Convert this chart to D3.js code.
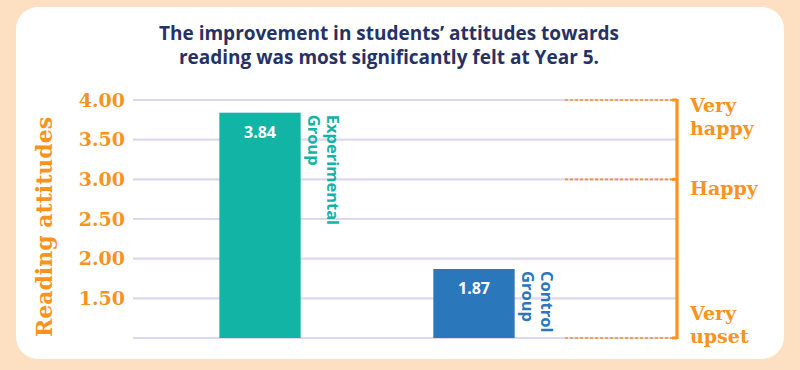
<!DOCTYPE html>
<html>
<head>
<meta charset="utf-8">
<script src="https://cdn.jsdelivr.net/npm/d3@7"></script>
<style>
  body { margin: 0; background: #fddfc1; }
  svg { display: block; }
</style>
</head>
<body>
<div id="chart"></div>
<script>
// reading attitudes bar chart
var groups = ["Experimental Group", "Control Group"];
var scores = [3.84, 1.87];
var yTicks = [1.5, 2.0, 2.5, 3.0, 3.5, 4.0];
var gridLines = [1.0, 1.5, 2.0, 2.5, 3.0, 3.5, 4.0];
var moodLevels = [4.0, 3.0, 1.0];
var moodLabels = [["Very", "happy"], ["Happy"], ["Very", "upset"]];
var titleLines = ["The improvement in students\u2019 attitudes towards",
                  "reading was most significantly felt at Year 5."];

(function () {
    var width = 800, height = 370;
    var orange = "#f7931e";
    var slab = "'DejaVu Serif', serif";
    var sans = "'Open Sans', 'Noto Sans', sans-serif";
    var barColors = ["#12b4a6", "#2a77bc"];

    var svg = d3.select("#chart")
                .append("svg")
                .attr("width", width)
                .attr("height", height);

    // background + white card
    svg.append("rect").attr("width", width).attr("height", height).attr("fill", "#fddfc1");
    svg.append("rect")
        .attr("x", 16).attr("y", 7)
        .attr("width", 768).attr("height", 352)
        .attr("rx", 22)
        .attr("fill", "#ffffff");

    var yScale = d3.scaleLinear().domain([1, 4]).range([338, 100]);
    var xScale = d3.scaleBand()
                   .domain(groups)
                   .range([153, 581])
                   .paddingInner(0.62)
                   .paddingOuter(0.31);

    // title
    svg.append("g").selectAll("text")
        .data(titleLines)
        .enter()
        .append("text")
        .attr("x", 389)
        .attr("y", function(d, i) { return 40 + i * 24; })
        .attr("text-anchor", "middle")
        .style("font-family", sans)
        .style("font-weight", 700)
        .style("font-size", "19px")
        .attr("fill", "#263266")
        .text(function(d) { return d; });

    // gridlines
    svg.append("g").selectAll("line")
        .data(gridLines)
        .enter()
        .append("line")
        .attr("x1", 133).attr("x2", 676)
        .attr("y1", function(d) { return yScale(d); })
        .attr("y2", function(d) { return yScale(d); })
        .attr("stroke", "#ddd7ef")
        .attr("stroke-width", 2.2);

    // y axis labels
    var yAxis = svg.append("g")
        .attr("transform", "translate(125,0)")
        .call(d3.axisLeft(yScale).tickValues(yTicks).tickSize(0).tickPadding(0)
              .tickFormat(d3.format(".2f")));
    yAxis.select(".domain").remove();
    yAxis.selectAll("text")
        .style("font-family", slab)
        .style("font-weight", 700)
        .style("font-size", "19px")
        .attr("fill", orange);

    svg.append("text")
        .attr("transform", "translate(52,227) rotate(-90)")
        .attr("text-anchor", "middle")
        .style("font-family", slab)
        .style("font-weight", 700)
        .style("font-size", "22px")
        .attr("fill", orange)
        .text("Reading attitudes");

    // bars
    svg.append("g").selectAll("rect")
        .data(scores)
        .enter()
        .append("rect")
        .attr("x", function(d, i) { return xScale(groups[i]); })
        .attr("y", function(d) { return yScale(d); })
        .attr("width", xScale.bandwidth())
        .attr("height", function(d) { return yScale(1) - yScale(d); })
        .attr("fill", function(d, i) { return barColors[i]; });

    // value labels
    svg.append("g").selectAll("text")
        .data(scores)
        .enter()
        .append("text")
        .attr("x", function(d, i) { return xScale(groups[i]) + xScale.bandwidth() / 2; })
        .attr("y", function(d) { return yScale(d) + 25; })
        .attr("text-anchor", "middle")
        .style("font-family", sans)
        .style("font-weight", 700)
        .style("font-size", "16px")
        .attr("fill", "#ffffff")
        .text(function(d) { return d.toFixed(2); });

    // rotated group names next to bars
    groups.forEach(function(g, i) {
        var words = g.split(" ");
        var x0 = xScale(g) + xScale.bandwidth() + 26;
        var t = svg.append("text")
            .attr("transform", "translate(" + x0 + "," + (yScale(scores[i]) + 2) + ") rotate(90)")
            .style("font-family", sans)
            .style("font-weight", 700)
            .style("font-size", "16.5px")
            .attr("fill", barColors[i]);
        words.forEach(function(w, j) {
            t.append("tspan").attr("x", 0).attr("dy", j === 0 ? 0 : 19).text(w);
        });
    });

    // mood bracket on the right
    svg.append("line")
        .attr("x1", 677).attr("x2", 677)
        .attr("y1", yScale(4) - 1).attr("y2", yScale(1) + 1)
        .attr("stroke", orange)
        .attr("stroke-width", 3.2);

    svg.append("g").selectAll("line")
        .data(moodLevels)
        .enter()
        .append("line")
        .attr("x1", 565).attr("x2", 676)
        .attr("y1", function(d) { return yScale(d); })
        .attr("y2", function(d) { return yScale(d); })
        .attr("stroke", orange)
        .attr("stroke-width", 1.6)
        .attr("stroke-dasharray", "3,2");

    svg.append("g").selectAll("rect")
        .data(moodLevels)
        .enter()
        .append("rect")
        .attr("x", 672).attr("width", 5)
        .attr("y", function(d) { return yScale(d) - 1.5; })
        .attr("height", 3)
        .attr("fill", orange);

    var moodOffsets = [11.5, 16, -18];
    moodLevels.forEach(function(m, i) {
        var t = svg.append("text")
            .attr("x", 690)
            .attr("y", yScale(m) + moodOffsets[i])
            .style("font-family", slab)
            .style("font-weight", 700)
            .style("font-size", "19px")
            .attr("fill", orange);
        moodLabels[i].forEach(function(w, j) {
            t.append("tspan").attr("x", 690).attr("dy", j === 0 ? 0 : 23).text(w);
        });
    });
})();
</script>
</body>
</html>
